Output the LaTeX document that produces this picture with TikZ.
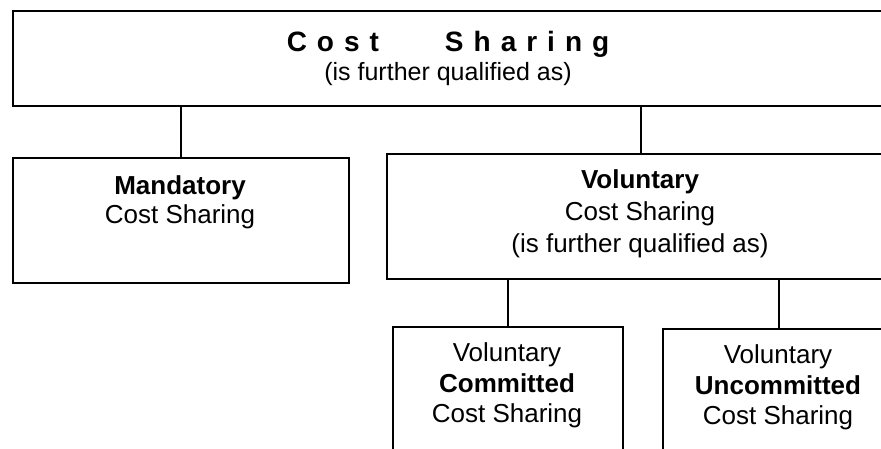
\documentclass[tikz,border=0pt]{standalone}
\usepackage{fontspec}
\setmainfont{Liberation Sans}
\begin{document}
\begin{tikzpicture}[x=1pt,y=-1pt,
  box/.style={draw, line width=2pt, inner sep=0pt, anchor=north west},
  link/.style={line width=1.8pt},
  txt/.style={anchor=base, inner sep=0pt, font=\fontsize{26pt}{30pt}\selectfont},
  bold/.style={txt, font=\fontsize{26pt}{30pt}\selectfont\bfseries},
  title/.style={anchor=base, inner sep=0pt, font=\fontsize{28pt}{32pt}\selectfont\bfseries}]
\useasboundingbox (0,0) rectangle (881,449);
\clip (0,0) rectangle (881,449);

% boxes
\node[box, minimum width=872pt, minimum height=95pt]  (top)  at (12,10)  {};
\node[box, minimum width=336pt, minimum height=125pt] (mand) at (12,157) {};
\node[box, minimum width=508pt, minimum height=125pt] (vol)  at (386,153) {};
\node[box, minimum width=230pt, minimum height=150pt] (comm) at (392,326) {};
\node[box, minimum width=232pt, minimum height=150pt] (unc)  at (662,328) {};

% top box text
\node[title] (t1) at (448,52) {C\kern10pt o\kern10pt s\kern10pt t\hspace{66pt}S\kern10pt h\kern10pt a\kern10pt r\kern10pt i\kern10pt n\kern10pt g};
\node[txt, font=\fontsize{25pt}{30pt}\selectfont] (t2) at (448,81) {(is further qualified as)};

% mandatory
\node[bold] (m1) at (180,195) {Mandatory};
\node[txt]  (m2) at (180,224) {Cost Sharing};

% voluntary
\node[bold] (v1) at (640,189) {Voluntary};
\node[txt]  (v2) at (640,221) {Cost Sharing};
\node[txt]  (v3) at (640,252) {(is further qualified as)};

% committed
\node[txt]  (c1) at (507,361) {Voluntary};
\node[bold] (c2) at (507,392) {Committed};
\node[txt]  (c3) at (507,422) {Cost Sharing};

% uncommitted
\node[txt]  (u1) at (778,363) {Voluntary};
\node[bold] (u2) at (778,394) {Uncommitted};
\node[txt]  (u3) at (778,424) {Cost Sharing};

% connectors
\draw[link] (top.south -| mand.north) -- (mand.north);
\draw[link] (top.south -| vol.north) -- (vol.north);
\draw[link] (vol.south -| comm.north) -- (comm.north);
\draw[link] (vol.south -| unc.north) -- (unc.north);
\end{tikzpicture}
\end{document}
